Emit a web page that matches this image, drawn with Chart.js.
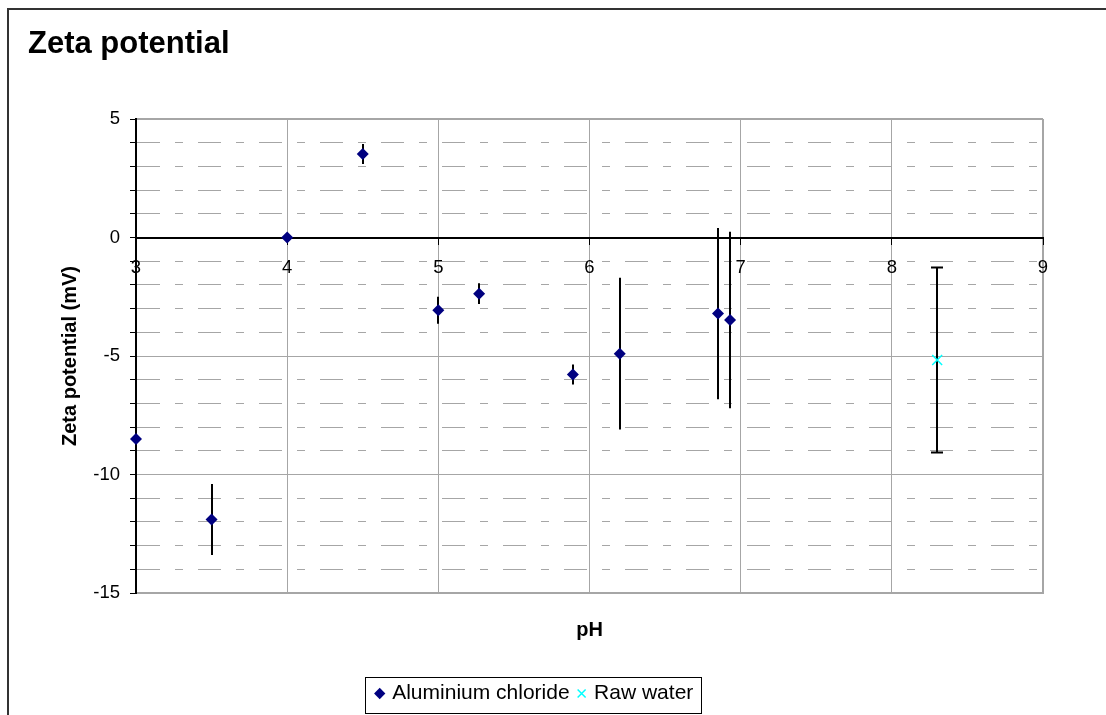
<!DOCTYPE html>
<html>
<head>
<meta charset="utf-8">
<script src="https://cdn.jsdelivr.net/npm/chart.js@4.4.1/dist/chart.umd.min.js"></script>
<style>
  body { margin: 0; background: #fff; }
  canvas { display: block; }
</style>
</head>
<body>
<canvas id="myChart" width="1106" height="715"></canvas>
<script>
// Aluminium chloride: pH, zeta potential (mV), error bar (+/- mV)
const alPh   = [3.0, 3.5, 4.0, 4.5, 5.0, 5.27, 5.89, 6.2, 6.85, 6.93];
const alZeta = [-8.5, -11.9, 0, 3.52, -3.07, -2.37, -5.78, -4.9, -3.21, -3.48];
const alErr  = [0, 1.5, 0, 0.42, 0.57, 0.44, 0.42, 3.2, 3.61, 3.72];

// Raw water
const rawPh   = [8.3];
const rawZeta = [-5.17];
const rawErr  = [3.9];

const xTicks = [3, 4, 5, 6, 7, 8, 9];
const yTicks = [-15, -10, -5, 0, 5];

Chart.defaults.font.family = "'Liberation Sans', Arial, sans-serif";
Chart.defaults.color = '#000';

const gridGray = '#a6a6a6';
const clear = 'rgba(0,0,0,0)';

// draws the vertical error bars behind the markers
const errorBars = {
    id: 'errorBars',
    beforeDatasetsDraw(chart) {
        const ctx = chart.ctx;
        const xs = chart.scales.x, ys = chart.scales.y;
        chart.data.datasets.forEach(ds => {
            ctx.save();
            ctx.strokeStyle = '#000';
            ctx.lineWidth = 2;
            ds.data.forEach((p, i) => {
                const e = ds.errors[i];
                if (!e) return;
                const px = Math.round(xs.getPixelForValue(p.x));
                const top = ys.getPixelForValue(p.y + e);
                const bot = ys.getPixelForValue(p.y - e);
                ctx.beginPath();
                ctx.moveTo(px, top);
                ctx.lineTo(px, bot);
                if (ds.capWidth) {
                    const h = ds.capWidth / 2;
                    ctx.moveTo(px - h, top); ctx.lineTo(px + h, top);
                    ctx.moveTo(px - h, bot); ctx.lineTo(px + h, bot);
                }
                ctx.stroke();
            });
            ctx.restore();
        });
    }
};

// white background, outer frame and legend box
const frame = {
    id: 'frame',
    beforeDraw(chart) {
        const ctx = chart.ctx;
        ctx.save();
        ctx.fillStyle = '#fff';
        ctx.fillRect(0, 0, chart.width, chart.height);
        ctx.restore();
    },
    afterDraw(chart) {
        const ctx = chart.ctx;
        ctx.save();
        ctx.strokeStyle = '#333';
        ctx.lineWidth = 2;
        ctx.strokeRect(8, 9, 1300, 900);
        const hb = chart.legend.legendHitBoxes;
        if (hb && hb.length) {
            const last = hb[hb.length - 1];
            const x0 = Math.round(hb[0].left - 13) + 0.5;
            const x1 = Math.round(last.left + last.width + 8) + 0.5;
            const y0 = Math.round(hb[0].top - 6) + 0.5;
            const y1 = Math.min(Math.round(hb[0].top + hb[0].height + 9) + 0.5, chart.height - 1.5);
            ctx.strokeStyle = '#000';
            ctx.lineWidth = 1;
            ctx.strokeRect(x0, y0, x1 - x0, y1 - y0);
        }
        ctx.restore();
    }
};

const ctx = document.getElementById('myChart').getContext('2d');
const myChart = new Chart(ctx, {
    type: 'scatter',
    data: {
        datasets: [{
            label: 'Aluminium chloride',
            data: alPh.map((x, i) => ({x: x, y: alZeta[i]})),
            errors: alErr,
            capWidth: 0,
            pointStyle: 'rectRot',
            pointRadius: 6,
            pointHoverRadius: 6,
            backgroundColor: '#000080',
            borderColor: '#000080',
            borderWidth: 0,
            clip: false
        }, {
            label: 'Raw water',
            data: rawPh.map((x, i) => ({x: x, y: rawZeta[i]})),
            errors: rawErr,
            capWidth: 12,
            pointStyle: 'crossRot',
            pointRadius: 7,
            pointHoverRadius: 7,
            backgroundColor: '#00ffff',
            borderColor: '#00ffff',
            borderWidth: 1.5,
            clip: false
        }]
    },
    options: {
        responsive: false,
        animation: false,
        devicePixelRatio: 1,
        layout: { padding: { left: 28, right: 63, top: 10, bottom: 1 } },
        plugins: {
            title: {
                display: true,
                text: 'Zeta potential',
                align: 'start',
                color: '#000',
                font: { size: 31, weight: 'bold' },
                padding: { top: 16, bottom: 55.8 }
            },
            legend: {
                position: 'bottom',
                labels: {
                    usePointStyle: true,
                    boxWidth: 4,
                    boxHeight: 8,
                    padding: 10,
                    color: '#000',
                    font: { size: 21 }
                }
            },
            tooltip: { enabled: false }
        },
        scales: {
            x: {
                type: 'linear',
                min: xTicks[0],
                max: xTicks[xTicks.length - 1],
                ticks: { display: false, stepSize: 1 },
                grid: {
                    color: c => (c.tick && c.tick.value === xTicks[0]) ? clear : gridGray,
                    lineWidth: c => (c.tick && c.tick.value === xTicks[xTicks.length - 1]) ? 2 : 1,
                    drawTicks: false
                },
                border: { color: gridGray, width: 2 },
                title: {
                    display: true,
                    text: 'pH',
                    font: { size: 20, weight: 'bold' },
                    padding: { top: 0, bottom: 30.9 }
                },
                afterFit(s) { s.height = 80; }
            },
            x2: {
                type: 'linear',
                axis: 'x',
                position: { y: 0 },
                min: xTicks[0],
                max: xTicks[xTicks.length - 1],
                ticks: { stepSize: 1, padding: 13, maxRotation: 0, autoSkip: false, font: { size: 18.5 } },
                grid: { drawOnChartArea: false, drawTicks: true, tickLength: 6, tickColor: '#000', tickWidth: 1 },
                border: { color: '#000', width: 2 }
            },
            y: {
                type: 'linear',
                min: yTicks[0],
                max: yTicks[yTicks.length - 1],
                ticks: {
                    stepSize: 1,
                    autoSkip: false,
                    padding: 10,
                    font: { size: 18.5 },
                    callback: v => yTicks.includes(v) ? String(v) : ''
                },
                grid: {
                    color: c => (c.tick && yTicks.includes(c.tick.value)) ? clear : gridGray,
                    drawTicks: true,
                    tickLength: 6,
                    tickColor: '#000',
                    tickWidth: 1
                },
                border: { color: '#000', width: 2, dash: [23, 15, 8, 15] },
                title: {
                    display: true,
                    text: 'Zeta potential (mV)',
                    font: { size: 20, weight: 'bold' },
                    padding: { top: 30, bottom: 0 }
                },
                afterFit(s) { s.width = 108; }
            },
            y2: {
                type: 'linear',
                axis: 'y',
                position: 'left',
                min: yTicks[0],
                max: yTicks[yTicks.length - 1],
                ticks: { display: false, stepSize: 5 },
                grid: {
                    color: c => (c.tick && c.tick.value === 0) ? clear : gridGray,
                    lineWidth: c => (c.tick && c.tick.value === yTicks[yTicks.length - 1]) ? 2 : 1,
                    drawTicks: false
                },
                border: { display: false },
                afterFit(s) { s.width = 0; }
            }
        }
    },
    plugins: [frame, errorBars]
});
</script>
</body>
</html>
